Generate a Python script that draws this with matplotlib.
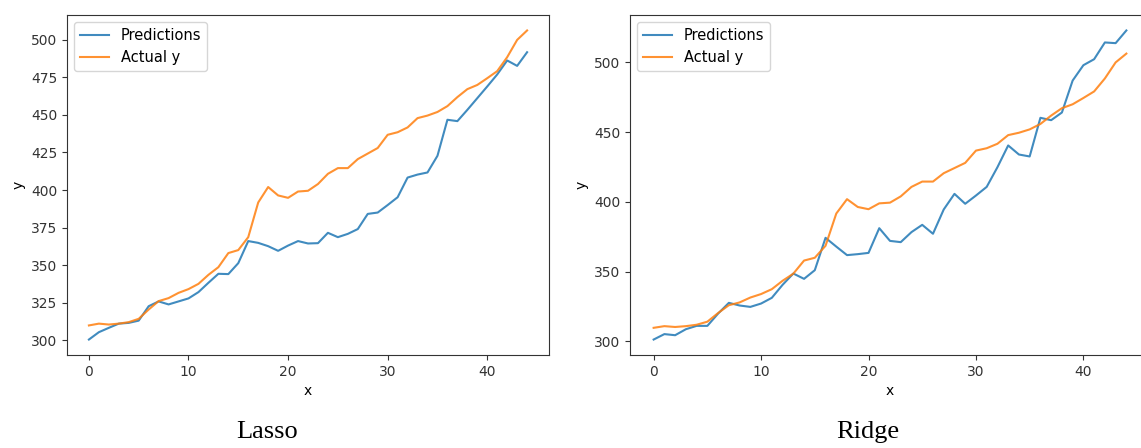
import numpy as np
import matplotlib
matplotlib.use("Agg")
import matplotlib.pyplot as plt

x = np.arange(45)

actual_y = [309.8, 311.0, 310.4, 311.0, 312.0, 314.2, 320.4, 326.0, 328.0, 331.5,
            334.0, 337.5, 343.5, 348.6, 358.0, 360.0, 368.6, 391.7, 402.0, 396.4,
            394.8, 399.0, 399.5, 404.0, 410.8, 414.6, 414.6, 420.6, 424.3, 428.0,
            436.8, 438.5, 441.7, 447.9, 449.6, 452.0, 455.9, 461.9, 467.2, 470.0,
            474.5, 479.2, 488.5, 500.0, 506.3]

lasso_pred = [300.4, 305.3, 308.2, 311.0, 311.5, 313.0, 322.6, 325.8, 323.8, 325.8,
              327.8, 332.0, 338.2, 344.2, 344.0, 351.3, 366.0, 364.8, 362.6, 359.5,
              363.0, 366.0, 364.4, 364.6, 371.5, 368.6, 370.8, 374.0, 384.1, 385.0,
              390.0, 395.2, 408.3, 410.3, 411.7, 422.8, 446.8, 445.9, 453.4, 461.2,
              469.0, 477.0, 486.3, 482.7, 491.8]

ridge_pred = [301.4, 305.3, 304.5, 308.8, 311.2, 311.2, 320.0, 327.7, 325.8, 324.8,
              327.2, 331.3, 340.6, 348.7, 344.9, 351.1, 374.3, 368.0, 361.9, 362.6,
              363.5, 381.2, 372.1, 371.2, 378.4, 383.6, 377.2, 394.6, 405.8, 398.7,
              404.6, 410.8, 424.9, 440.5, 434.0, 432.6, 460.3, 458.6, 464.1, 487.0,
              498.0, 502.3, 514.3, 513.8, 522.9]

lasso_ticks = [300, 325, 350, 375, 400, 425, 450, 475, 500]
ridge_ticks = [300, 350, 400, 450, 500]

W, H = 1141, 448
fig = plt.figure(figsize=(W / 100, H / 100), dpi=100)

ax1 = fig.add_axes([67 / W, 1 - 355 / H, (549 - 67) / W, (355 - 15) / H])
ax2 = fig.add_axes([630 / W, 1 - 355 / H, (1150 - 630) / W, (355 - 15) / H])

panels = [(ax1, lasso_pred, lasso_ticks, "Lasso", 267),
          (ax2, ridge_pred, ridge_ticks, "Ridge", 868)]

for ax, pred, ticks, name, cx in panels:
    ax.plot(x, pred, label="Predictions", color="#1f77b4", linewidth=1.5, alpha=0.85)
    ax.plot(x, actual_y, label="Actual y", color="#ff7f0e", linewidth=1.5, alpha=0.85)
    ax.set_yticks(ticks)
    ax.set_xlabel("x", fontsize=10)
    ax.set_ylabel("y", fontsize=10)
    ax.tick_params(labelsize=10, colors="#333333")
    for s in ax.spines.values():
        s.set_color("#333333")
    ax.legend(loc="upper left", fontsize=10.5)
    fig.text(cx / W, 1 - 432 / H, name, ha="center", va="center",
             fontsize=19, family="Liberation Serif")

fig.savefig("out.png", dpi=100)
